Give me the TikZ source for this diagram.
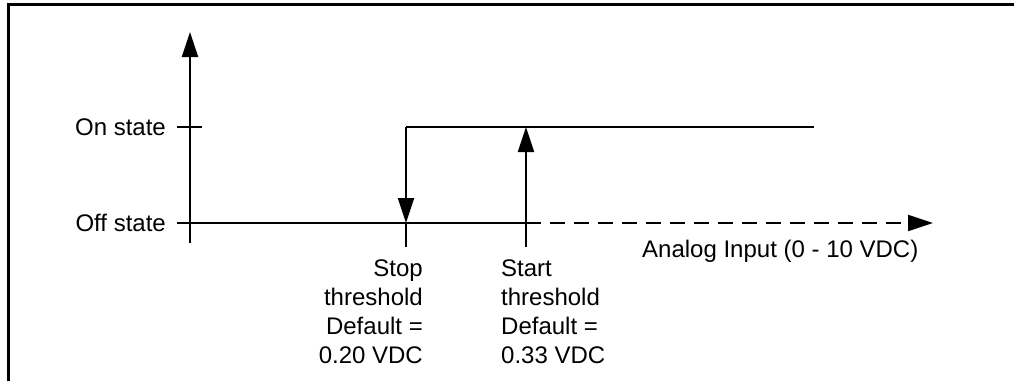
\documentclass[tikz,border=0pt]{standalone}
\usepackage{fontspec}
\setmainfont{Liberation Sans}
\usetikzlibrary{arrows.meta, positioning}
\tikzset{
  lbl/.style={inner sep=0pt, font=\fontsize{24}{29}\selectfont},
  axis/.style={line width=2pt},
  arr/.style={line width=2pt, -{Triangle[length=25pt, width=16pt]}},
  frame/.style={line width=3pt},
}
\begin{document}
\begin{tikzpicture}[x=1pt, y=-1pt]
  \useasboundingbox (0,0) rectangle (1014,381);
  \draw[frame] (8,381) -- (8,4) -- (1014,4);

  % Points on the chart
  \coordinate (ybot) at (190,243);
  \coordinate (ytop) at (190,32);
  \coordinate (ontl) at (177,127);
  \coordinate (ontr) at (202,127);
  \coordinate (offl) at (177,223);
  \coordinate (xend) at (933,223);
  \coordinate (stopon) at (406,127);
  \coordinate (stopoff) at (406,223);
  \coordinate (stopbot) at (406,247);
  \coordinate (starton) at (526,127);
  \coordinate (startoff) at (526,223);
  \coordinate (startbot) at (526,247);
  \coordinate (onend) at (814,127);

  % Labels
  \node[lbl, anchor=east] (onlbl) at (166,127) {On state};
  \node[lbl, anchor=east] (offlbl) at (166,223) {Off state};
  \node[lbl, anchor=north west] (xlbl) at (642,240) {Analog Input (0 - 10 VDC)};
  \node[lbl, anchor=north east, align=right] (stoplbl) at (423,260)
    {Stop\\threshold\\Default =\\0.20 VDC};
  \node[lbl, anchor=north west, align=left] (startlbl) at (501,260)
    {Start\\threshold\\Default =\\0.33 VDC};

  % Axes
  \draw[arr] (ybot) -- (ytop);
  \draw[axis] (ontl) -- (ontr);
  \draw[axis] (offl) -- (startoff);
  \draw[arr, dash pattern=on 15pt off 9pt] (startoff) -- (xend);

  % Thresholds
  \draw[axis] (onend) -- (stopon);
  \draw[arr] (stopon) -- (stopoff);
  \draw[axis] (stopoff) -- (stopbot);
  \draw[arr] (startbot) -- (starton);
\end{tikzpicture}
\end{document}
